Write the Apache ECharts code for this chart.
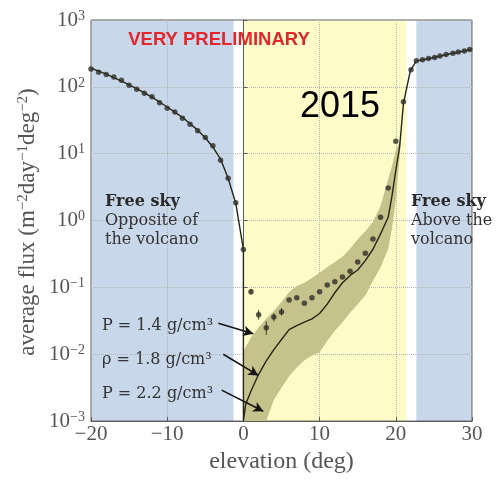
<!DOCTYPE html>
<html><head><meta charset="utf-8">
<script src="https://cdn.jsdelivr.net/npm/echarts@6/dist/echarts.min.js"></script>
<style>html,body{margin:0;padding:0;background:#fff}#c{width:499px;height:479px}</style>
</head><body><div id="c"></div>
<script>
// ---- data ----
const xMin = -20, xMax = 30, xStep = 10;
const yMin = 0.001, yMax = 1000;

// background regions (elevation ranges)
const regionStart = [-20, 0.1, 22.7];
const regionEnd = [-1.3, 21.4, 30];
const regionKind = ['sky', 'volcano', 'sky'];

// measured points
const dotElev = [-20,-19,-18,-17,-16,-15,-14,-13,-12,-11,-10,-9,-8,-7,-6,-5,-4,-3,-2,-1,0,
  1,2,3,4,5,6,7,8,9,10,11,12,13,14,15,16,17,18,19,20,21,22,
  22.7,23.5,24.3,25.1,25.8,26.6,27.5,28.2,29,29.7];
const dotFlux = [185,166,153,140,125,106,92,80,71,58,48,42,34,27.5,22,17.5,13.2,8.0,4.3,1.85,0.37,
  0.086,0.039,0.025,0.036,0.043,0.065,0.070,0.058,0.070,0.086,0.109,0.122,0.143,0.175,0.24,0.325,0.53,1.12,3.07,15.3,60,180,
  245,254,266,276,290,304,318,332,343,363];

// error bars on a few points
const errElev = [1,2,3,4,5];
const errLow = [0.078,0.033,0.0195,0.031,0.038];
const errHigh = [0.095,0.046,0.031,0.041,0.049];

// model (simulation, rho = 1.8 g/cm3)
const modelElev = [-20,-18,-16,-14,-12,-10,-8,-6,-5,-4,-3,-2,-1,0,0,
  0.3,1,2,3,4,5,6,7,8,9,10,11,12,13,14,15,16,17,18,19,19.5,20,20.5,21,21.9,22.7,23.5,25,27,28.5,30];
const modelFlux = [190,155,122,94,70,50,35,22.5,17.3,12.5,8.3,4.3,1.8,0.37,0.001,
  0.00178,0.00282,0.00501,0.00794,0.01175,0.0166,0.0234,0.0269,0.0302,0.0339,0.0407,0.0562,0.0832,0.1175,0.151,0.182,0.251,0.372,0.631,1.12,2.34,5.62,12.6,56,174,245,252,275,310,335,365];

// model band (rho = 1.4 .. 2.2 g/cm3)
const bandElev = [0,1,2,3,4,5,6,7,8,9,10,11,12,13,14,15,16,17,18,19,19.5,20,20.7];
const bandHigh = [0.0112,0.0178,0.0251,0.0339,0.0447,0.0603,0.0851,0.105,0.1175,0.138,0.166,0.2,0.24,0.288,0.38,0.525,0.69,0.955,1.66,4.17,6.5,11.2,17];
const bandLow = [0.001,0.001,0.001,0.001,0.00209,0.00316,0.00468,0.00631,0.00813,0.00955,0.0107,0.0158,0.0224,0.0302,0.0417,0.0562,0.0759,0.126,0.2,0.38,0.76,2.0,17];

// annotation arrows (data coords)
const arrowFromElev = [-3.29,-2.64,-2.85];
const arrowFromFlux = [0.029,0.010,0.00291];
const arrowToElev = [1.30,1.96,2.61];
const arrowToFlux = [0.0203,0.00482,0.0014];
const arrowLabels = ['P = 1.4 g/cm\u00b3','\u03c1 = 1.8 g/cm\u00b3','P = 2.2 g/cm\u00b3'];

// ---- chart ----
const colors = {sky:'#c8d7ea', volcano:'#fdfcc9'};
const serif = '"Liberation Serif", serif';
const chart = echarts.init(document.getElementById('c'), null, {renderer:'canvas'});

const regionData = regionStart.map((s,i)=>[s, regionEnd[i], i]);
const bandData = [0];
const dots = dotElev.map((x,i)=>[x, dotFlux[i]]);
const model = modelElev.map((x,i)=>[x, modelFlux[i]]);
const errs = errElev.map((x,i)=>[x, errLow[i], errHigh[i]]);
const arrows = arrowFromElev.map((x,i)=>[{coord:[x, arrowFromFlux[i]]},{coord:[arrowToElev[i], arrowToFlux[i]]}]);

function supLabel(e){ return '{b|10}{s|' + (e<0 ? '\u2212'+(-e) : e) + '}'; }

const option = {
  animation:false,
  grid:{left:91,right:27,top:20,bottom:49,show:true,borderColor:'#5a5a5a',borderWidth:1,backgroundColor:'transparent'},
  xAxis:{type:'value',min:xMin,max:xMax,interval:xStep,
    axisLine:{show:true,lineStyle:{color:'#5a5a5a'}},
    axisTick:{inside:true,length:4,lineStyle:{color:'#5a5a5a'}},
    axisLabel:{fontFamily:serif,fontSize:21,color:'#555',margin:3,
      formatter:v=> v<0 ? '\u2212'+(-v) : String(v)},
    splitLine:{show:true,lineStyle:{color:'#b4b4b4',type:'dotted',width:1}},
    name:'elevation (deg)',nameLocation:'middle',nameGap:24,
    nameTextStyle:{fontFamily:serif,fontSize:24,color:'#555'}
  },
  yAxis:{type:'log',logBase:10,min:yMin,max:yMax,
    axisLine:{show:true,lineStyle:{color:'#5a5a5a'}},
    axisTick:{inside:true,length:4,lineStyle:{color:'#5a5a5a'}},
    axisLabel:{margin:6,formatter:v=>supLabel(Math.round(Math.log10(v))),
      rich:{b:{fontFamily:serif,fontSize:21,color:'#555',lineHeight:22},
            s:{fontFamily:serif,fontSize:14,color:'#555',verticalAlign:'top',lineHeight:22}}},
    splitLine:{show:true,lineStyle:{color:'#b4b4b4',type:'dotted',width:1}}
  },
  series:[
    {type:'custom',z:-1,silent:true,data:regionData,
      renderItem:(params,api)=>{
        const p0 = api.coord([api.value(0), yMax]);
        const p1 = api.coord([api.value(1), yMin]);
        return {type:'rect',shape:{x:p0[0],y:p0[1],width:p1[0]-p0[0],height:p1[1]-p0[1]},
          style:{fill:colors[regionKind[api.value(2)]]}};
      }},
    {type:'custom',z:1,silent:true,data:bandData,
      renderItem:(params,api)=>{
        const pts = [];
        for(let i=0;i<bandElev.length;i++) pts.push(api.coord([bandElev[i], bandHigh[i]]));
        for(let i=bandElev.length-1;i>=0;i--) pts.push(api.coord([bandElev[i], bandLow[i]]));
        return {type:'polygon',shape:{points:pts},style:{fill:'#c6c28b'}};
      }},
    {type:'line',z:3,data:model,showSymbol:false,symbol:'none',
      lineStyle:{color:'#262616',width:1.4},
      markLine:{silent:true,symbol:['none','arrow'],symbolSize:[8,10],
        lineStyle:{color:'#151515',width:1.6,type:'solid'},label:{show:false},
        data:arrows}},
    {type:'custom',z:4,silent:true,data:errs,
      renderItem:(params,api)=>{
        const a = api.coord([api.value(0), api.value(1)]);
        const b = api.coord([api.value(0), api.value(2)]);
        return {type:'line',shape:{x1:a[0],y1:a[1],x2:b[0],y2:b[1]},style:{stroke:'#3a3a26',lineWidth:1}};
      }},
    {type:'scatter',z:5,data:dots,symbol:'circle',symbolSize:5.5,
      itemStyle:{color:'#2f2f28'}}
  ],
  graphic:[]
};
chart.setOption(option);

const txt = (x,y,text,font,fill,align,extra)=>Object.assign({type:'text',x:x,y:y,z:100,silent:true,
  style:Object.assign({text:text,font:font,fill:fill,align:align||'left',verticalAlign:'middle',
    textAlign:align||'left',textVerticalAlign:'middle'},extra||{})});
const g = [];
g.push(txt(219,40,'VERY PRELIMINARY','bold 18.5px "Liberation Sans", sans-serif','#e3262b','center'));
g.push(txt(340,107,'2015','36px "Liberation Sans", Arial, sans-serif','#000','center'));
const dj = '"DejaVu Serif", serif';
g.push(txt(105,202,'Free sky','bold 16px '+dj,'#2a2a2a'));
g.push(txt(105,221,'Opposite of','16px '+dj,'#333'));
g.push(txt(105,240,'the volcano','16px '+dj,'#333'));
g.push(txt(411,202,'Free sky','bold 16px '+dj,'#2a2a2a'));
g.push(txt(411,221,'Above the','16px '+dj,'#333'));
g.push(txt(411,240,'volcano','16px '+dj,'#333'));
const labY = [326,360,394];
arrowLabels.forEach((t,i)=>g.push(txt(102,labY[i],t,'16px '+dj,'#333')));
g.push({type:'text',x:28,y:222,rotation:Math.PI/2,z:100,silent:true,
  style:{text:'average flux (m{s|\u22122}day{s|\u22121}deg{s|\u22122})',font:'23px '+serif,fill:'#555',
    align:'center',verticalAlign:'middle',textAlign:'center',textVerticalAlign:'middle',
    rich:{s:{fontFamily:serif,fontSize:15,fill:'#555',color:'#555',verticalAlign:'top',lineHeight:24}}}});
chart.setOption({graphic:g});
</script></body></html>
